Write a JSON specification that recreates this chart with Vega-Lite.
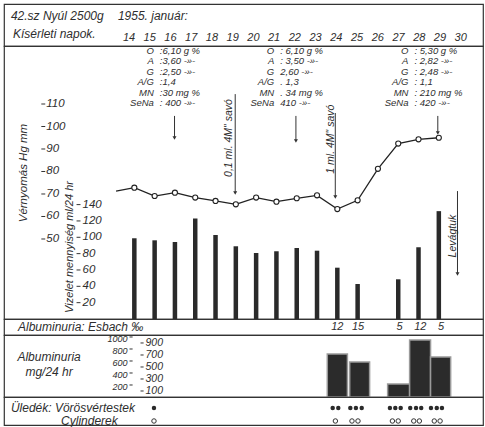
{
  "$schema": "https://vega.github.io/schema/vega-lite/v6.json",
  "background": "white",
  "padding": {"left": 3, "top": 3, "right": 3, "bottom": 3},
  "spacing": 0,
  "bounds": "flush",
  "resolve": {"scale": {"x": "independent", "y": "independent"}},
  "config": {
    "view": {"stroke": "#333", "strokeWidth": 1.2},
    "text": {"font": "Liberation Sans", "fontStyle": "italic", "fontSize": 11.5, "color": "#2e2e2e"}
  },
  "datasets": {
    "bp": [
      {"day": 13.1, "bp": 71.3, "m": false},
      {"day": 14, "bp": 72.8, "m": true},
      {"day": 15, "bp": 69.1, "m": true},
      {"day": 16, "bp": 70.6, "m": true},
      {"day": 17, "bp": 68.4, "m": true},
      {"day": 18, "bp": 66.9, "m": true},
      {"day": 19, "bp": 65.4, "m": true},
      {"day": 20, "bp": 68.4, "m": true},
      {"day": 21, "bp": 66.6, "m": true},
      {"day": 22, "bp": 68.1, "m": true},
      {"day": 23, "bp": 69.4, "m": true},
      {"day": 24, "bp": 63.3, "m": true},
      {"day": 25, "bp": 67.2, "m": true},
      {"day": 26, "bp": 81.2, "m": true},
      {"day": 27, "bp": 92.4, "m": true},
      {"day": 28, "bp": 94.3, "m": true},
      {"day": 29, "bp": 95.0, "m": true}
    ],
    "urine": [
      {"day": 14, "ml": 98.8}, {"day": 15, "ml": 96.3}, {"day": 16, "ml": 94.2},
      {"day": 17, "ml": 123}, {"day": 18, "ml": 102.8}, {"day": 19, "ml": 89},
      {"day": 20, "ml": 80.8}, {"day": 21, "ml": 82.9}, {"day": 22, "ml": 86.9},
      {"day": 23, "ml": 83.6}, {"day": 24, "ml": 62.8}, {"day": 25, "ml": 42.8},
      {"day": 27, "ml": 48.6}, {"day": 28, "ml": 87.8}, {"day": 29, "ml": 132}
    ],
    "arrows": [
      {"day": 15.98, "from": 104.7, "to": 94.9},
      {"day": 21.96, "from": 104.7, "to": 93.6},
      {"day": 28.95, "from": 104.7, "to": 97.1},
      {"day": 18.97, "from": 114.4, "to": 70.4},
      {"day": 23.9, "from": 106.0, "to": 68.7},
      {"day": 29.92, "from": 71.3, "to": 34.4}
    ],
    "notes": [
      {"t": "0,1 ml. 4M\" savó", "day": 18.68, "bp": 94.9},
      {"t": "1 ml. 4M\" savó", "day": 23.68, "bp": 94.4},
      {"t": "Levágtuk", "day": 29.72, "bp": 51.3}
    ],
    "bpTicks": [{"v": 50}, {"v": 60}, {"v": 70}, {"v": 80}, {"v": 90}, {"v": 100}, {"v": 110}],
    "mlTicks": [{"v": 20}, {"v": 40}, {"v": 60}, {"v": 80}, {"v": 100}, {"v": 120}, {"v": 140}],
    "mgTicksLeft": [{"v": 200}, {"v": 400}, {"v": 600}, {"v": 800}, {"v": 1000}],
    "mgTicksRight": [{"v": 100}, {"v": 300}, {"v": 500}, {"v": 700}, {"v": 900}],
    "chem": [
      {"anchor": 15.11, "param": "Ö", "value": ":6,10 g %"},
      {"anchor": 15.11, "param": "A", "value": ":3,60 -»-"},
      {"anchor": 15.11, "param": "G", "value": ":2,50 -»-"},
      {"anchor": 15.11, "param": "A/G", "value": ":1,4"},
      {"anchor": 15.11, "param": "MN", "value": ":30 mg %"},
      {"anchor": 15.11, "param": "SeNa", "value": ": 400 -»-"},
      {"anchor": 21.04, "param": "Ö", "value": ": 6,10 g %"},
      {"anchor": 21.04, "param": "A", "value": ": 3,50 -»-"},
      {"anchor": 21.04, "param": "G", "value": "  2,60 -»-"},
      {"anchor": 21.04, "param": "A/G", "value": ". 1,3"},
      {"anchor": 21.04, "param": "MN", "value": ". 34 mg %"},
      {"anchor": 21.04, "param": "SeNa", "value": "  410 -»-"},
      {"anchor": 27.65, "param": "Ö", "value": ": 5,30 g %"},
      {"anchor": 27.65, "param": "A", "value": ": 2,82 -»-"},
      {"anchor": 27.65, "param": "G", "value": ": 2,48 -»-"},
      {"anchor": 27.65, "param": "A/G", "value": ": 1,1"},
      {"anchor": 27.65, "param": "MN", "value": ": 210 mg %"},
      {"anchor": 27.65, "param": "SeNa", "value": ": 420 -»-"}
    ],
    "esbach": [
      {"day": 24, "v": "12"}, {"day": 25, "v": "15"}, {"day": 27, "v": "5"}, {"day": 28, "v": "12"}, {"day": 29, "v": "5"}
    ],
    "albumin": [
      {"from": 23.42, "to": 24.39, "mg": 717},
      {"from": 24.5, "to": 25.46, "mg": 583},
      {"from": 26.33, "to": 27.39, "mg": 217},
      {"from": 27.39, "to": 28.4, "mg": 950},
      {"from": 28.4, "to": 29.37, "mg": 667}
    ],
    "sediment": [
      {"day": 15.06, "row": 1}, {"day": 23.68, "row": 1}, {"day": 23.95, "row": 1},
      {"day": 24.53, "row": 1}, {"day": 24.8, "row": 1}, {"day": 25.08, "row": 1},
      {"day": 26.44, "row": 1}, {"day": 26.7, "row": 1}, {"day": 26.96, "row": 1},
      {"day": 27.42, "row": 1}, {"day": 27.7, "row": 1}, {"day": 27.95, "row": 1},
      {"day": 28.42, "row": 1}, {"day": 28.7, "row": 1}, {"day": 28.95, "row": 1},
      {"day": 15.06, "row": 2}, {"day": 23.81, "row": 2},
      {"day": 24.61, "row": 2}, {"day": 24.9, "row": 2},
      {"day": 26.56, "row": 2}, {"day": 26.84, "row": 2},
      {"day": 27.59, "row": 2}, {"day": 27.86, "row": 2},
      {"day": 28.58, "row": 2}, {"day": 28.86, "row": 2}
    ]
  },
  "vconcat": [
    {
      "width": 479, "height": 42,
      "layer": [
        {"mark": {"type": "rule", "color": "#333", "strokeWidth": 1.2},
         "encoding": {"x": {"datum": 13, "type": "quantitative", "scale": {"domain": [7.826, 30.93], "nice": false, "zero": false}, "axis": null}}},
        {"data": {"values": [
           {"t": "42.sz Nyúl 2500g", "day": 8.16, "line": 1},
           {"t": "Kísérleti napok.", "day": 8.26, "line": 2.5},
           {"t": "1955. január:", "day": 13.32, "line": 1}]},
         "mark": {"type": "text", "align": "left", "baseline": "middle", "fontSize": 12},
         "encoding": {
           "x": {"field": "day", "type": "quantitative", "scale": {"domain": [7.826, 30.93], "nice": false, "zero": false}, "axis": null},
           "y": {"field": "line", "type": "quantitative", "scale": {"domain": [0, 3.5], "reverse": true, "nice": false, "zero": false}, "axis": null},
           "text": {"field": "t"}}},
        {"data": {"values": [
           {"d": 14}, {"d": 15}, {"d": 16}, {"d": 17}, {"d": 18}, {"d": 19}, {"d": 20}, {"d": 21}, {"d": 22},
           {"d": 23}, {"d": 24}, {"d": 25}, {"d": 26}, {"d": 27}, {"d": 28}, {"d": 29}, {"d": 30}]},
         "mark": {"type": "text", "baseline": "middle", "fontSize": 11, "dx": -3},
         "encoding": {
           "x": {"field": "d", "type": "quantitative", "scale": {"domain": [7.826, 30.93], "nice": false, "zero": false}, "axis": null},
           "y": {"datum": 2.83, "type": "quantitative", "scale": {"domain": [0, 3.5], "reverse": true, "nice": false, "zero": false}, "axis": null},
           "text": {"field": "d", "type": "quantitative", "format": "d"}}}
      ]
    },
    {
      "width": 479, "height": 273,
      "resolve": {"scale": {"y": "independent"}},
      "layer": [
        {"mark": {"type": "rule", "color": "#333", "strokeWidth": 1.2},
         "encoding": {"x": {"datum": 13, "type": "quantitative", "scale": {"domain": [7.826, 30.93], "nice": false, "zero": false}, "axis": null}}},
        {
          "layer": [
            {"data": {"name": "bp"},
             "mark": {"type": "line", "color": "#222", "strokeWidth": 1.3},
             "encoding": {
               "x": {"field": "day", "type": "quantitative", "scale": {"domain": [7.826, 30.93], "nice": false, "zero": false}, "axis": null},
               "y": {"field": "bp", "type": "quantitative", "scale": {"domain": [14.44, 135.78], "nice": false, "zero": false}, "axis": null}}},
            {"data": {"name": "bp"},
             "transform": [{"filter": "datum.m"}],
             "mark": {"type": "point", "shape": "circle", "filled": true, "fill": "white", "stroke": "#222", "strokeWidth": 1.1, "size": 26, "opacity": 1},
             "encoding": {
               "x": {"field": "day", "type": "quantitative", "scale": {"domain": [7.826, 30.93], "nice": false, "zero": false}, "axis": null},
               "y": {"field": "bp", "type": "quantitative", "scale": {"domain": [14.44, 135.78], "nice": false, "zero": false}, "axis": null}}},
            {"data": {"name": "arrows"},
             "mark": {"type": "rule", "color": "#333", "strokeWidth": 1},
             "encoding": {
               "x": {"field": "day", "type": "quantitative", "scale": {"domain": [7.826, 30.93], "nice": false, "zero": false}, "axis": null},
               "y": {"field": "from", "type": "quantitative", "scale": {"domain": [14.44, 135.78], "nice": false, "zero": false}, "axis": null},
               "y2": {"field": "to"}}},
            {"data": {"name": "arrows"},
             "mark": {"type": "point", "shape": "triangle-down", "filled": true, "color": "#333", "size": 16, "opacity": 1},
             "encoding": {
               "x": {"field": "day", "type": "quantitative", "scale": {"domain": [7.826, 30.93], "nice": false, "zero": false}, "axis": null},
               "y": {"field": "to", "type": "quantitative", "scale": {"domain": [14.44, 135.78], "nice": false, "zero": false}, "axis": null}}},
            {"data": {"name": "notes"},
             "mark": {"type": "text", "angle": 270, "align": "center", "baseline": "middle", "fontSize": 10.5},
             "encoding": {
               "x": {"field": "day", "type": "quantitative", "scale": {"domain": [7.826, 30.93], "nice": false, "zero": false}, "axis": null},
               "y": {"field": "bp", "type": "quantitative", "scale": {"domain": [14.44, 135.78], "nice": false, "zero": false}, "axis": null},
               "text": {"field": "t"}}},
            {"mark": {"type": "rule", "color": "#333", "strokeWidth": 1},
             "encoding": {
               "x": {"datum": 9.418, "type": "quantitative", "scale": {"domain": [7.826, 30.93], "nice": false, "zero": false}, "axis": null},
               "y": {"datum": 29, "type": "quantitative", "scale": {"domain": [14.44, 135.78], "nice": false, "zero": false}, "axis": null},
               "y2": {"datum": 122}}},
            {"data": {"name": "bpTicks"},
             "mark": {"type": "rule", "color": "#333", "strokeWidth": 1},
             "encoding": {
               "x": {"datum": 9.418, "type": "quantitative", "scale": {"domain": [7.826, 30.93], "nice": false, "zero": false}, "axis": null},
               "x2": {"datum": 9.611},
               "y": {"field": "v", "type": "quantitative", "scale": {"domain": [14.44, 135.78], "nice": false, "zero": false}, "axis": null}}},
            {"data": {"name": "bpTicks"},
             "mark": {"type": "text", "align": "left", "baseline": "middle", "fontSize": 11.5, "dx": 5},
             "encoding": {
               "x": {"datum": 9.418, "type": "quantitative", "scale": {"domain": [7.826, 30.93], "nice": false, "zero": false}, "axis": null},
               "y": {"field": "v", "type": "quantitative", "scale": {"domain": [14.44, 135.78], "nice": false, "zero": false}, "axis": null},
               "text": {"field": "v", "type": "quantitative", "format": "d"}}},
            {"data": {"values": [{"t": "Vérnyomás Hg mm", "day": 8.55, "bp": 79.3}]},
             "mark": {"type": "text", "angle": 270, "align": "center", "baseline": "middle", "fontSize": 11.5},
             "encoding": {
               "x": {"field": "day", "type": "quantitative", "scale": {"domain": [7.826, 30.93], "nice": false, "zero": false}, "axis": null},
               "y": {"field": "bp", "type": "quantitative", "scale": {"domain": [14.44, 135.78], "nice": false, "zero": false}, "axis": null},
               "text": {"field": "t"}}}
          ]
        },
        {
          "layer": [
            {"data": {"name": "urine"},
             "mark": {"type": "bar", "size": 4.5, "color": "#2a2a2a"},
             "encoding": {
               "x": {"field": "day", "type": "quantitative", "scale": {"domain": [7.826, 30.93], "nice": false, "zero": false}, "axis": null},
               "y": {"field": "ml", "type": "quantitative", "scale": {"domain": [0, 334.1], "nice": false}, "axis": null}}},
            {"mark": {"type": "rule", "color": "#333", "strokeWidth": 1},
             "encoding": {
               "x": {"datum": 11.154, "type": "quantitative", "scale": {"domain": [7.826, 30.93], "nice": false, "zero": false}, "axis": null},
               "y": {"datum": 0, "type": "quantitative", "scale": {"domain": [0, 334.1], "nice": false}, "axis": null},
               "y2": {"datum": 212}}},
            {"data": {"name": "mlTicks"},
             "mark": {"type": "rule", "color": "#333", "strokeWidth": 1},
             "encoding": {
               "x": {"datum": 11.154, "type": "quantitative", "scale": {"domain": [7.826, 30.93], "nice": false, "zero": false}, "axis": null},
               "x2": {"datum": 11.347},
               "y": {"field": "v", "type": "quantitative", "scale": {"domain": [0, 334.1], "nice": false}, "axis": null}}},
            {"data": {"name": "mlTicks"},
             "mark": {"type": "text", "align": "left", "baseline": "middle", "fontSize": 11.5, "dx": 6},
             "encoding": {
               "x": {"datum": 11.154, "type": "quantitative", "scale": {"domain": [7.826, 30.93], "nice": false, "zero": false}, "axis": null},
               "y": {"field": "v", "type": "quantitative", "scale": {"domain": [0, 334.1], "nice": false}, "axis": null},
               "text": {"field": "v", "type": "quantitative", "format": "d"}}},
            {"data": {"values": [{"t": "Vizelet mennyiség ml/24 hr", "day": 10.82, "ml": 88.1}]},
             "mark": {"type": "text", "angle": 270, "align": "center", "baseline": "middle", "fontSize": 11},
             "encoding": {
               "x": {"field": "day", "type": "quantitative", "scale": {"domain": [7.826, 30.93], "nice": false, "zero": false}, "axis": null},
               "y": {"field": "ml", "type": "quantitative", "scale": {"domain": [0, 334.1], "nice": false}, "axis": null},
               "text": {"field": "t"}}}
          ]
        },
        {
          "data": {"name": "chem"},
          "layer": [
            {"mark": {"type": "text", "align": "right", "baseline": "middle", "fontSize": 9.5, "dx": -3},
             "encoding": {
               "x": {"field": "anchor", "type": "quantitative", "scale": {"domain": [7.826, 30.93], "nice": false, "zero": false}, "axis": null},
               "y": {"field": "param", "type": "ordinal", "scale": {"type": "point", "domain": ["Ö", "A", "G", "A/G", "MN", "SeNa"], "range": [5, 57], "padding": 0}, "axis": null},
               "text": {"field": "param"}}},
            {"mark": {"type": "text", "align": "left", "baseline": "middle", "fontSize": 9.5, "dx": 3},
             "encoding": {
               "x": {"field": "anchor", "type": "quantitative", "scale": {"domain": [7.826, 30.93], "nice": false, "zero": false}, "axis": null},
               "y": {"field": "param", "type": "ordinal", "scale": {"type": "point", "domain": ["Ö", "A", "G", "A/G", "MN", "SeNa"], "range": [5, 57], "padding": 0}, "axis": null},
               "text": {"field": "value"}}}
          ]
        }
      ]
    },
    {
      "width": 479, "height": 16,
      "layer": [
        {"data": {"values": [{"t": "Albuminuria: Esbach ‰", "day": 8.5}]},
         "mark": {"type": "text", "align": "left", "baseline": "middle", "fontSize": 12},
         "encoding": {
           "x": {"field": "day", "type": "quantitative", "scale": {"domain": [7.826, 30.93], "nice": false, "zero": false}, "axis": null},
           "text": {"field": "t"}}},
        {"data": {"name": "esbach"},
         "mark": {"type": "text", "align": "center", "baseline": "middle", "fontSize": 11, "dx": -2},
         "encoding": {
           "x": {"field": "day", "type": "quantitative", "scale": {"domain": [7.826, 30.93], "nice": false, "zero": false}, "axis": null},
           "text": {"field": "v"}}}
      ]
    },
    {
      "width": 479, "height": 62,
      "layer": [
        {"mark": {"type": "rule", "color": "#333", "strokeWidth": 1.2},
         "encoding": {"x": {"datum": 13, "type": "quantitative", "scale": {"domain": [7.826, 30.93], "nice": false, "zero": false}, "axis": null}}},
        {"mark": {"type": "rule", "color": "#333", "strokeWidth": 1},
         "encoding": {"x": {"datum": 14.41, "type": "quantitative", "scale": {"domain": [7.826, 30.93], "nice": false, "zero": false}, "axis": null}}},
        {"data": {"name": "albumin"},
         "mark": {"type": "bar", "color": "#2b2b2b", "stroke": "#9a9a9a", "strokeWidth": 1.5},
         "encoding": {
           "x": {"field": "from", "type": "quantitative", "scale": {"domain": [7.826, 30.93], "nice": false, "zero": false}, "axis": null},
           "x2": {"field": "to"},
           "y": {"field": "mg", "type": "quantitative", "scale": {"domain": [0, 1033], "nice": false}, "axis": null},
           "y2": {"datum": 0}}},
        {"data": {"name": "mgTicksLeft"},
         "mark": {"type": "rule", "color": "#333", "strokeWidth": 1},
         "encoding": {
           "x": {"datum": 13.88, "type": "quantitative", "scale": {"domain": [7.826, 30.93], "nice": false, "zero": false}, "axis": null},
           "x2": {"datum": 14.03},
           "y": {"field": "v", "type": "quantitative", "scale": {"domain": [0, 1033], "nice": false}, "axis": null}}},
        {"data": {"name": "mgTicksLeft"},
         "mark": {"type": "text", "align": "right", "baseline": "middle", "fontSize": 9, "dx": -13, "dy": 2},
         "encoding": {
           "x": {"datum": 14.41, "type": "quantitative", "scale": {"domain": [7.826, 30.93], "nice": false, "zero": false}, "axis": null},
           "y": {"field": "v", "type": "quantitative", "scale": {"domain": [0, 1033], "nice": false}, "axis": null},
           "text": {"field": "v", "type": "quantitative", "format": "d"}}},
        {"data": {"name": "mgTicksRight"},
         "mark": {"type": "rule", "color": "#333", "strokeWidth": 1},
         "encoding": {
           "x": {"datum": 14.41, "type": "quantitative", "scale": {"domain": [7.826, 30.93], "nice": false, "zero": false}, "axis": null},
           "x2": {"datum": 14.56},
           "y": {"field": "v", "type": "quantitative", "scale": {"domain": [0, 1033], "nice": false}, "axis": null}}},
        {"data": {"name": "mgTicksRight"},
         "mark": {"type": "text", "align": "left", "baseline": "middle", "fontSize": 10.5, "dx": 5},
         "encoding": {
           "x": {"datum": 14.41, "type": "quantitative", "scale": {"domain": [7.826, 30.93], "nice": false, "zero": false}, "axis": null},
           "y": {"field": "v", "type": "quantitative", "scale": {"domain": [0, 1033], "nice": false}, "axis": null},
           "text": {"field": "v", "type": "quantitative", "format": "d"}}},
        {"data": {"values": [{"t": "Albuminuria", "day": 10.0, "mg": 667}, {"t": "mg/24 hr", "day": 10.0, "mg": 410}]},
         "mark": {"type": "text", "align": "center", "baseline": "middle", "fontSize": 12},
         "encoding": {
           "x": {"field": "day", "type": "quantitative", "scale": {"domain": [7.826, 30.93], "nice": false, "zero": false}, "axis": null},
           "y": {"field": "mg", "type": "quantitative", "scale": {"domain": [0, 1033], "nice": false}, "axis": null},
           "text": {"field": "t"}}}
      ]
    },
    {
      "width": 479, "height": 28,
      "layer": [
        {"data": {"values": [{"t": "Üledék: Vörösvértestek", "day": 8.16, "row": 1}, {"t": "Cylinderek", "day": 10.58, "row": 2}]},
         "mark": {"type": "text", "align": "left", "baseline": "middle", "fontSize": 12},
         "encoding": {
           "x": {"field": "day", "type": "quantitative", "scale": {"domain": [7.826, 30.93], "nice": false, "zero": false}, "axis": null},
           "y": {"field": "row", "type": "quantitative", "scale": {"domain": [0.154, 2.308], "reverse": true, "nice": false, "zero": false}, "axis": null},
           "text": {"field": "t"}}},
        {"data": {"name": "sediment"},
         "transform": [{"filter": "datum.row == 1"}],
         "mark": {"type": "point", "shape": "circle", "filled": true, "color": "#2a2a2a", "size": 20, "opacity": 1},
         "encoding": {
           "x": {"field": "day", "type": "quantitative", "scale": {"domain": [7.826, 30.93], "nice": false, "zero": false}, "axis": null},
           "y": {"field": "row", "type": "quantitative", "scale": {"domain": [0.154, 2.308], "reverse": true, "nice": false, "zero": false}, "axis": null}}},
        {"data": {"name": "sediment"},
         "transform": [{"filter": "datum.row == 2"}],
         "mark": {"type": "point", "shape": "circle", "filled": false, "color": "#333", "strokeWidth": 1, "size": 20, "opacity": 1},
         "encoding": {
           "x": {"field": "day", "type": "quantitative", "scale": {"domain": [7.826, 30.93], "nice": false, "zero": false}, "axis": null},
           "y": {"field": "row", "type": "quantitative", "scale": {"domain": [0.154, 2.308], "reverse": true, "nice": false, "zero": false}, "axis": null}}}
      ]
    }
  ]
}
